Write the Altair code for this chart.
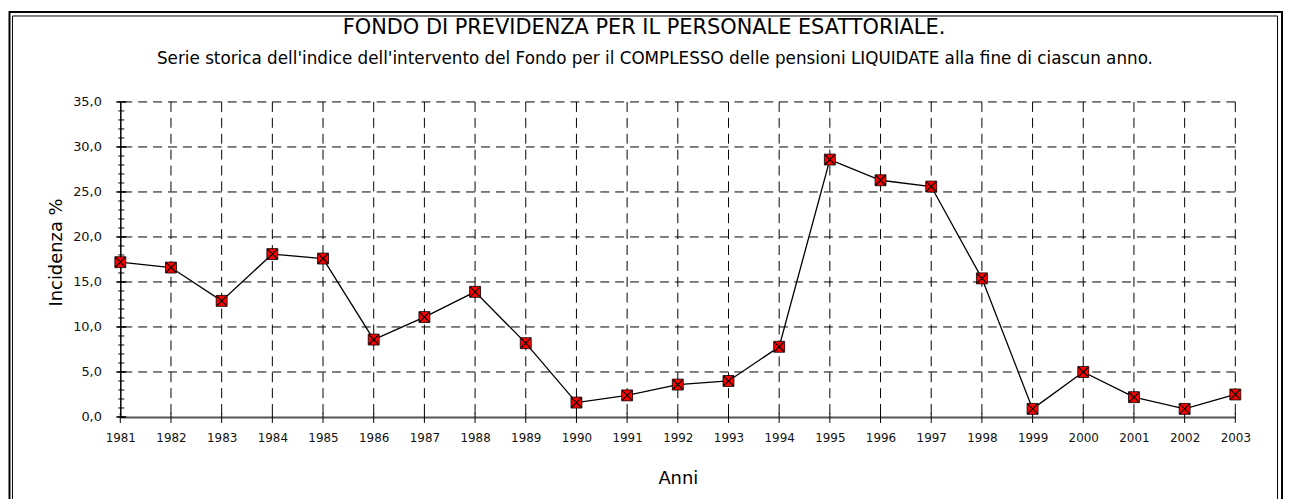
import altair as alt
import pandas as pd

# ---------------- data ----------------
YEARS = [1981, 1982, 1983, 1984, 1985, 1986, 1987, 1988, 1989, 1990, 1991, 1992,
         1993, 1994, 1995, 1996, 1997, 1998, 1999, 2000, 2001, 2002, 2003]
INCIDENZA = [17.2, 16.6, 12.9, 18.1, 17.6, 8.6, 11.1, 13.9, 8.2, 1.6, 2.4, 3.6,
             4.0, 7.8, 28.6, 26.3, 25.6, 15.4, 0.9, 5.0, 2.2, 0.9, 2.5]
Y_LABEL_TICKS = [0, 5, 10, 15, 20, 25, 30, 35]
Y_GRID = [5, 10, 15, 20, 25, 30, 35]
Y_MINOR_TICKS = [0, 1, 2, 3, 4, 5, 6, 7, 8, 9, 10, 11, 12, 13, 14, 15, 16, 17,
                 18, 19, 20, 21, 22, 23, 24, 25, 26, 27, 28, 29, 30, 31, 32, 33, 34, 35]

TITLE = "FONDO DI PREVIDENZA PER IL PERSONALE ESATTORIALE."
SUBTITLE = ("Serie storica dell'indice dell'intervento del Fondo per il COMPLESSO "
            "delle pensioni LIQUIDATE alla fine di ciascun anno.")
X_TITLE = "Anni"
Y_TITLE = "Incidenza %"

# ---------------- layout ----------------
W, H = 1122, 317
FONT = "DejaVu Sans"

xs = alt.Scale(domain=[YEARS[0], YEARS[-1]], nice=False, zero=False)
ys = alt.Scale(domain=[Y_LABEL_TICKS[0], Y_LABEL_TICKS[-1]], nice=False)

df = pd.DataFrame({"Anno": YEARS, "Incidenza": INCIDENZA})
one = pd.DataFrame({"k": [0]})

x_axis = alt.Axis(
    values=YEARS, format="d", title=X_TITLE, grid=False, ticks=False, tickSize=0,
    domainColor="#555555", domainWidth=2, labelFont=FONT, labelFontSize=12,
    labelColor="#111111", labelPadding=16, labelFlush=False,
    titleFont=FONT, titleFontSize=18, titleFontWeight="normal", titleColor="black",
    titleX=W / 2, titleY=67, titleAlign="center", titleBaseline="alphabetic",
)
y_axis = alt.Axis(
    values=Y_LABEL_TICKS, title=Y_TITLE, grid=False, ticks=False, tickSize=0,
    domainColor="black", domainWidth=1.5, labelFont=FONT, labelFontSize=13,
    labelColor="#111111", labelPadding=19,
    labelExpr="replace(format(datum.value, '.1f'), '.', ',')",
    titleFont=FONT, titleFontSize=18, titleFontWeight="normal", titleColor="black",
    titleAngle=270, titleX=-59, titleY=151, titleAlign="center",
    titleBaseline="alphabetic",
)

main = alt.Chart(df).mark_line(color="black", strokeWidth=1.3).encode(
    x=alt.X("Anno:Q", scale=xs, axis=x_axis),
    y=alt.Y("Incidenza:Q", scale=ys, axis=y_axis),
)

grid_h = alt.Chart(pd.DataFrame({"Incidenza": Y_GRID})).mark_rule(
    color="black", strokeWidth=1, strokeDash=[9, 6]
).encode(y=alt.Y("Incidenza:Q", scale=ys))

grid_v = alt.Chart(pd.DataFrame({"Anno": YEARS[1:]})).mark_rule(
    color="black", strokeWidth=1, strokeDash=[10, 6]
).encode(x=alt.X("Anno:Q", scale=xs))

ticks_major = alt.Chart(pd.DataFrame({"Incidenza": Y_LABEL_TICKS})).mark_rule(
    color="black", strokeWidth=1.5
).encode(y=alt.Y("Incidenza:Q", scale=ys), x=alt.value(-4), x2=alt.value(6))

ticks_minor = alt.Chart(pd.DataFrame({"Incidenza": Y_MINOR_TICKS})).mark_rule(
    color="black", strokeWidth=1
).encode(y=alt.Y("Incidenza:Q", scale=ys), x=alt.value(-2), x2=alt.value(4))

ticks_x = alt.Chart(pd.DataFrame({"Anno": YEARS})).mark_rule(
    color="black", strokeWidth=1
).encode(x=alt.X("Anno:Q", scale=xs), y=alt.value(H - 4), y2=alt.value(H + 6))

frame_outer = alt.Chart(one).mark_rect(filled=False, color="black", strokeWidth=2).encode(
    x=alt.value(-111.5), x2=alt.value(1169), y=alt.value(-90.5), y2=alt.value(420)
)
frame_inner = alt.Chart(one).mark_rect(filled=False, color="black", strokeWidth=1).encode(
    x=alt.value(-108.5), x2=alt.value(1164.5), y=alt.value(-86.5), y2=alt.value(420)
)

title = alt.Chart(pd.DataFrame({"t": [TITLE]})).mark_text(
    font=FONT, fontSize=21, color="black", align="center", baseline="alphabetic"
).encode(text="t:N", x=alt.value(527), y=alt.value(-68))

subtitle = alt.Chart(pd.DataFrame({"t": [SUBTITLE]})).mark_text(
    font=FONT, fontSize=16.9, color="black", align="center", baseline="alphabetic"
).encode(text="t:N", x=alt.value(538), y=alt.value(-38))

squares = alt.Chart(df).mark_square(
    size=121, color="#ff0000", stroke="black", strokeWidth=0.8, opacity=1, filled=True
).encode(
    x=alt.X("Anno:Q", scale=xs),
    y=alt.Y("Incidenza:Q", scale=ys),
)
crosses = alt.Chart(df).mark_point(
    shape="M-1,-1L1,1M-1,1L1,-1", size=100, color="black", strokeWidth=1.2,
    filled=False, opacity=1
).encode(
    x=alt.X("Anno:Q", scale=xs),
    y=alt.Y("Incidenza:Q", scale=ys),
)

chart = alt.layer(
    main, grid_h, grid_v, ticks_minor, ticks_major, ticks_x,
    frame_outer, frame_inner, title, subtitle, squares, crosses,
).properties(
    width=W, height=H,
    autosize=alt.AutoSizeParams(type="none"),
    padding={"left": 113, "top": 93, "right": 50, "bottom": 81},
    background="white",
).configure_view(strokeWidth=0)

chart.save("out.html", embed_options={"renderer": "svg", "actions": False})
